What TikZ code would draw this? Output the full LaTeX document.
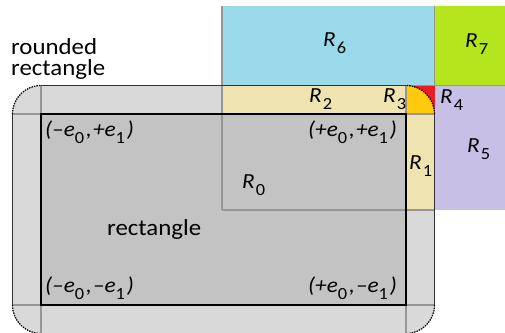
\documentclass[tikz,border=0pt]{standalone}
\usepackage{fontspec}
\setmainfont{Carlito}[FakeStretch=1.08]
\usepackage{xcolor}
\usetikzlibrary{positioning}

\definecolor{outergray}{RGB}{217,217,217}
\definecolor{innergray}{RGB}{195,195,195}
\definecolor{linegray}{RGB}{150,150,150}
\definecolor{turq}{RGB}{153,217,234}
\definecolor{limegreen}{RGB}{181,230,29}
\definecolor{lavender}{RGB}{200,191,231}
\definecolor{cream}{RGB}{239,228,176}
\definecolor{golden}{RGB}{255,201,14}
\definecolor{redcorner}{RGB}{237,28,36}

\newcommand{\reg}[1]{\textit{R}\kern1pt\raisebox{-7pt}{\fontsize{17}{17}\selectfont #1}}
\newcommand{\unitvec}[1]{\textit{e}\raisebox{-7pt}{\fontsize{17}{17}\selectfont #1}\kern2pt}

\begin{document}
\begin{tikzpicture}[
x=1pt, y=1pt,
lbl/.style={anchor=base west, inner sep=0pt, font=\fontsize{21.5}{21.5}\selectfont},
txt/.style={anchor=base west, inner sep=0pt, align=left, font=\fontsize{23}{21}\selectfont},
gridline/.style={draw=linegray, line width=1.5pt},
edge/.style={draw=black!80, line width=1.5pt},
arcedge/.style={draw=black, line width=1.2pt, dash pattern=on 1.5pt off 1pt}
]
\useasboundingbox (0,0) rectangle (505,332);
% rounded rectangle and rectangle
\fill[outergray, rounded corners=28.5pt] (12.5,-1.5) rectangle (434.5,246.5);
\fill[innergray] (41,27) rectangle (406,218);
% regions outside the rectangle
\fill[turq] (222,246.5) rectangle (434.5,326);
\fill[limegreen] (434.5,246.5) rectangle (505,326);
\fill[lavender] (434.5,122) rectangle (505,246.5);
\fill[cream] (222,218) rectangle (406,246.5);
\fill[cream] (406,122) rectangle (434.5,218);
\fill[redcorner] (406,218) rectangle (434.5,246.5);
\fill[golden] (406,218) -- (434.5,218) arc (0:90:28.5) -- cycle;
% grid lines
\draw[gridline] (41,-2) -- (41,246.5);
\draw[gridline] (406,-2) -- (406,246.5);
\draw[gridline] (12.5,27) -- (434.5,27);
\draw[gridline] (12.5,218) -- (434.5,218);
\draw[gridline] (222,122) -- (222,326);
\draw[gridline] (222,122) -- (434.5,122);
\draw[gridline] (434.5,246.5) -- (434.5,326);
\draw[gridline] (222,246.5) -- (505,246.5);
% borders
\draw[edge] (41,246.5) -- (406,246.5);
\draw[edge] (12.5,27) -- (12.5,218);
\draw[edge] (434.5,27) -- (434.5,218);
\draw[arcedge] (12.5,218) arc (180:90:28.5);
\draw[arcedge] (12.5,27) arc (180:270:28.5);
\draw[arcedge] (434.5,27) arc (0:-90:28.5);
\draw[arcedge] (434.5,218) arc (0:90:28.5);
\draw[black, line width=1.5pt] (41,27) rectangle (406,218);
% labels
\node[lbl] (r0) at (242,143) {\reg{0}};
\node[lbl] (r1) at (409,162) {\reg{1}};
\node[lbl] (r2) at (309,229) {\reg{2}};
\node[lbl] (r3) at (383,229) {\reg{3}};
\node[lbl] (r4) at (440,228) {\reg{4}};
\node[lbl] (r5) at (467,179) {\reg{5}};
\node[lbl] (r6) at (323,285) {\reg{6}};
\node[lbl] (r7) at (465,284) {\reg{7}};
\node[lbl] (pp) at (308,195) {\textit{(+}\unitvec{0}\textit{,\kern1pt+}\unitvec{1}\textit{)}};
\node[lbl] (mp) at (45,195) {\textit{(\textendash}\unitvec{0}\textit{,\kern1pt+}\unitvec{1}\textit{)}};
\node[lbl] (mm) at (45,40) {\textit{(\textendash}\unitvec{0}\textit{,\kern1pt\textendash}\unitvec{1}\textit{)}};
\node[lbl] (pm) at (308,40) {\textit{(+}\unitvec{0}\textit{,\kern1pt\textendash}\unitvec{1}\textit{)}};
\node[txt] (rect) at (107,97) {rectangle};
\node[txt] (rrect) at (11,256) {rounded\\rectangle};
\end{tikzpicture}
\end{document}
